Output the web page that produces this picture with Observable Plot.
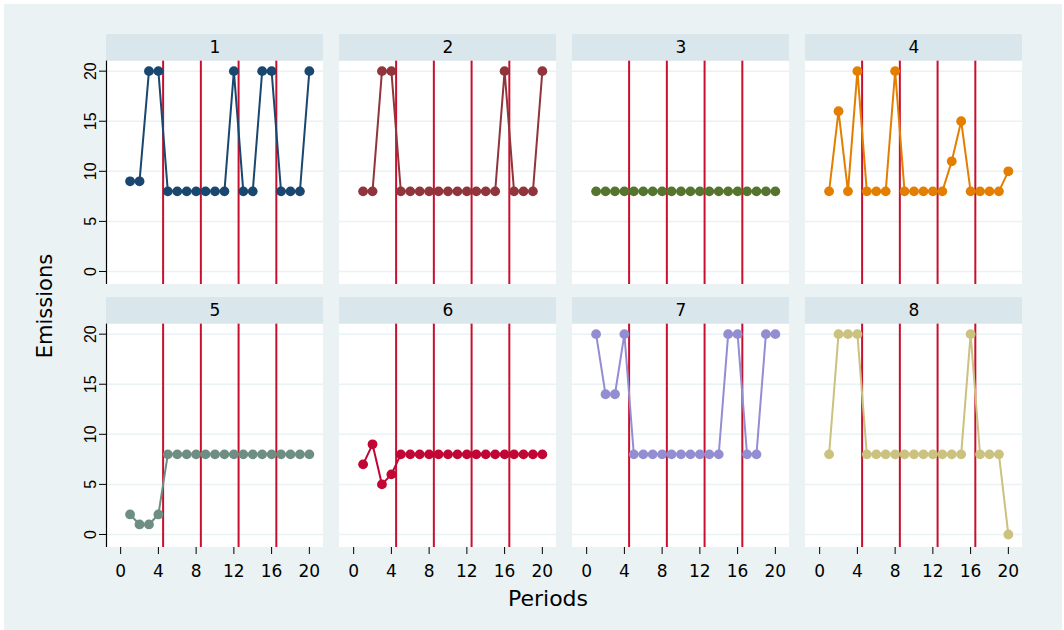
<!DOCTYPE html>
<html>
<head>
<meta charset="utf-8">
<script src="https://cdn.jsdelivr.net/npm/d3@7"></script>
<script src="https://cdn.jsdelivr.net/npm/@observablehq/plot@0.6"></script>
<style>
  html, body { margin: 0; padding: 0; background: #ffffff; }
  #wrap { position: relative; width: 1064px; height: 630px; overflow: hidden; }
  #bg { position: absolute; left: 4px; top: 4px; width: 1058px; height: 626px; background: #eaf2f3; }
  #chart { position: absolute; left: 0; top: 0; }
  .ytitle { position: absolute; left: 45px; top: 306px; transform: translate(-50%, -50%) rotate(-90deg);
            font-family: "DejaVu Sans", sans-serif; font-size: 21px; color: #000; white-space: nowrap; }
  .xtitle { position: absolute; left: 548px; top: 598px; transform: translate(-50%, -50%);
            font-family: "DejaVu Sans", sans-serif; font-size: 22px; color: #000; white-space: nowrap; }
</style>
</head>
<body>
<div id="wrap">
  <div id="bg"></div>
  <div id="chart"></div>
  <div class="ytitle">Emissions</div>
  <div class="xtitle">Periods</div>
</div>
<script>
// ---- data ----
const periods = [1, 2, 3, 4, 5, 6, 7, 8, 9, 10, 11, 12, 13, 14, 15, 16, 17, 18, 19, 20];
const panelNames = ["1", "2", "3", "4", "5", "6", "7", "8"];
const series1 = [9, 9, 20, 20, 8, 8, 8, 8, 8, 8, 8, 20, 8, 8, 20, 20, 8, 8, 8, 20];
const series2 = [8, 8, 20, 20, 8, 8, 8, 8, 8, 8, 8, 8, 8, 8, 8, 20, 8, 8, 8, 20];
const series3 = [8, 8, 8, 8, 8, 8, 8, 8, 8, 8, 8, 8, 8, 8, 8, 8, 8, 8, 8, 8];
const series4 = [8, 16, 8, 20, 8, 8, 8, 20, 8, 8, 8, 8, 8, 11, 15, 8, 8, 8, 8, 10];
const series5 = [2, 1, 1, 2, 8, 8, 8, 8, 8, 8, 8, 8, 8, 8, 8, 8, 8, 8, 8, 8];
const series6 = [7, 9, 5, 6, 8, 8, 8, 8, 8, 8, 8, 8, 8, 8, 8, 8, 8, 8, 8, 8];
const series7 = [20, 14, 14, 20, 8, 8, 8, 8, 8, 8, 8, 8, 8, 8, 20, 20, 8, 8, 20, 20];
const series8 = [8, 20, 20, 20, 8, 8, 8, 8, 8, 8, 8, 8, 8, 8, 8, 20, 8, 8, 8, 0];
const allSeries = [series1, series2, series3, series4, series5, series6, series7, series8];
const yTicks = [0, 5, 10, 15, 20];
const xTicks = [0, 4, 8, 12, 16, 20];
const breaks = [4.5, 8.5, 12.5, 16.5];
const colors = ["#1a476f", "#90353b", "#55752f", "#e37e00", "#6e8e84", "#c10534", "#938dd2", "#cac27e"];

// ---- layout constants ----
const xDomain = [-1.5, 21.5];
const yMin = -1.3, plotTop = 21, yMax = 23.66;

// ---- build tables ----
const panels = panelNames.map((name, i) => ({ panel: name, col: i % 4, row: Math.floor(i / 4), idx: i }));
const table = [];
panels.forEach(p => {
  allSeries[p.idx].forEach((v, j) => {
    table.push({ panel: p.panel, col: p.col, row: p.row, period: periods[j], emissions: v });
  });
});
const leftCells = panels.filter(p => p.col === 0);

const chart = Plot.plot({
  width: 1064,
  height: 630,
  marginLeft: 105,
  marginRight: 40,
  marginTop: 33,
  marginBottom: 82,
  style: { background: "transparent", fontFamily: "'DejaVu Sans', sans-serif", fontSize: "17px", color: "#000" },
  fx: { domain: [0, 1, 2, 3], paddingInner: 0.068, paddingOuter: 0, axis: null },
  fy: { domain: [0, 1], paddingInner: 0.049, paddingOuter: 0, axis: null },
  x: { domain: xDomain },
  y: { domain: [yMin, yMax] },
  color: { domain: panelNames, range: colors },
  marks: [
    // plot region background
    Plot.rect([0], { x1: () => xDomain[0], x2: () => xDomain[1], y1: () => yMin, y2: () => plotTop, fill: "#ffffff" }),
    // header strip
    Plot.rect([0], { x1: () => xDomain[0], x2: () => xDomain[1], y1: () => plotTop, y2: () => yMax, fill: "#d9e6eb" }),
    // gridlines
    Plot.ruleY(yTicks, { stroke: "#eaf2f3", strokeWidth: 1.5 }),
    // period breaks
    Plot.ruleX(breaks, { y1: () => yMin, y2: () => plotTop, stroke: "#c8102e", strokeWidth: 2 }),
    // header labels
    Plot.text(panels, {
      fx: "col", fy: "row", text: "panel",
      x: () => (xDomain[0] + xDomain[1]) / 2, y: () => (plotTop + yMax) / 2,
      fontSize: 17, fill: "#000"
    }),
    // series
    Plot.line(table, { fx: "col", fy: "row", x: "period", y: "emissions", z: "panel", stroke: "panel", strokeWidth: 2 }),
    Plot.dot(table, { fx: "col", fy: "row", x: "period", y: "emissions", fill: "panel", r: 4.9 }),
    // y axis line (left panels only)
    Plot.ruleX(leftCells, { fx: "col", fy: "row", x: () => xDomain[0], y1: () => yMin, y2: () => plotTop, stroke: "#000", strokeWidth: 1.2 }),
    Plot.axisY({
      ticks: yTicks, anchor: "left", tickSize: 7, tickPadding: 4, tickRotate: -90,
      fontFamily: "'Liberation Sans Narrow', 'Liberation Sans', sans-serif", fontSize: 16, label: null
    }),
    Plot.axisX({
      ticks: xTicks, anchor: "bottom", tickSize: 7, tickPadding: 10, line: true,
      fontSize: 17, label: null
    })
  ]
});
document.getElementById("chart").appendChild(chart);
</script>
</body>
</html>
